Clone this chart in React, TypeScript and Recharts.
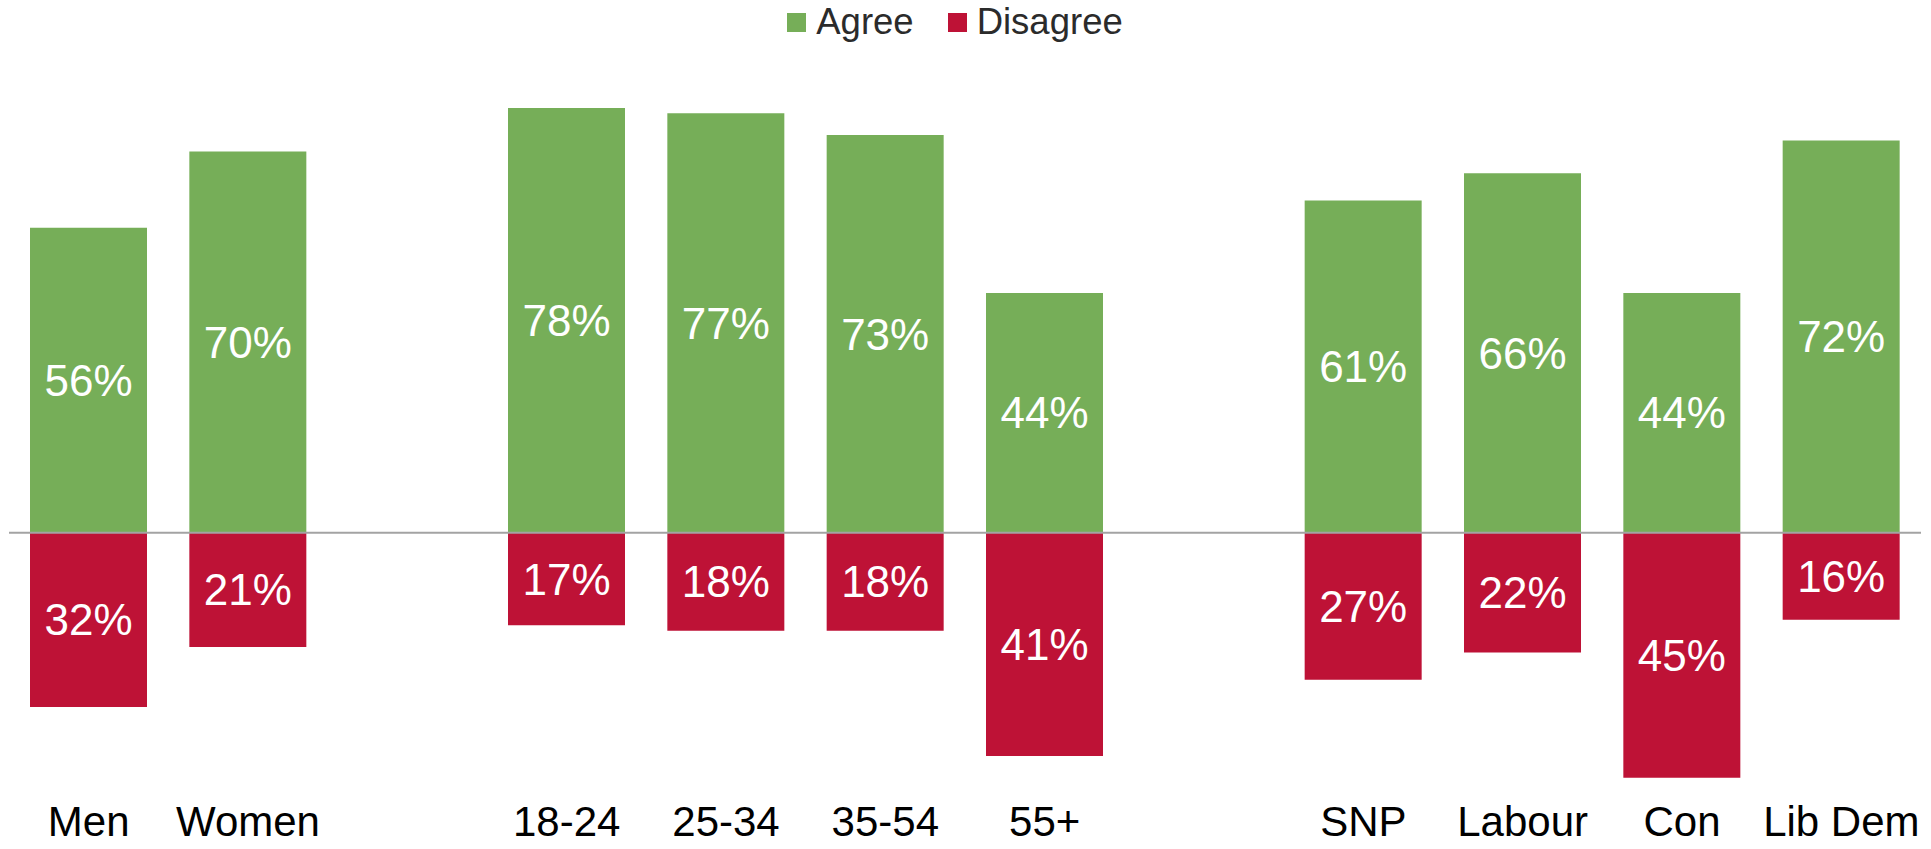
import { BarChart, Bar, XAxis, YAxis, Legend, ReferenceLine, LabelList } from 'recharts'

// Categories ('' = spacer between groups)
const categories = ['Men', 'Women', '', '18-24', '25-34', '35-54', '55+', '', 'SNP', 'Labour', 'Con', 'Lib Dem']
const agree = [56, 70, null, 78, 77, 73, 44, null, 61, 66, 44, 72]
const disagree = [32, 21, null, 17, 18, 18, 41, null, 27, 22, 45, 16]

const GREEN = '#76ae58'
const RED = '#be1236'
const FONT = '"Liberation Sans", Arial, sans-serif'

const data = categories.map((name, i) => ({
  name,
  agree: agree[i],
  disagree: disagree[i] == null ? null : -(disagree[i] as number),
}))

const fmt = (v: any) => (v == null || isNaN(v) ? '' : `${Math.abs(v)}%`)

function LegendContent() {
  const items = [
    { label: 'Agree', color: GREEN },
    { label: 'Disagree', color: RED },
  ]
  return (
    <div style={{ display: 'flex', justifyContent: 'center', paddingLeft: 14, height: 44, fontFamily: FONT }}>
      {items.map(it => (
        <div key={it.label} style={{ display: 'flex', alignItems: 'center', marginRight: 34, height: 44 }}>
          <span style={{ width: 19, height: 19, background: it.color, marginRight: 10, display: 'inline-block' }} />
          <span style={{ fontSize: 36.5, color: '#2b2b2b' }}>{it.label}</span>
        </div>
      ))}
    </div>
  )
}

export default function App() {
  return (
    <div style={{ position: 'absolute', left: 0, top: 0, width: 1931, height: 849, background: '#fff', fontFamily: FONT }}>
      <BarChart
        width={1931}
        height={849}
        data={data}
        stackOffset="sign"
        margin={{ top: 53, right: 10, left: 9, bottom: 0 }}
        barSize={117}
      >
        <XAxis
          dataKey="name"
          axisLine={false}
          tickLine={false}
          tickSize={0}
          tickMargin={1}
          height={44}
          interval={0}
          tick={{ fontSize: 42, fill: '#000', fontFamily: FONT }}
        />
        <YAxis hide domain={[-50, 80]} />
        <Legend verticalAlign="top" content={<LegendContent />} wrapperStyle={{ top: 0 }} />
        <Bar dataKey="agree" stackId="a" fill={GREEN} isAnimationActive={false}>
          <LabelList dataKey="agree" position="center" fill="#fff" fontSize={44} fontFamily={FONT} formatter={fmt} />
        </Bar>
        <Bar dataKey="disagree" stackId="a" fill={RED} isAnimationActive={false}>
          <LabelList dataKey="disagree" position="center" fill="#fff" fontSize={44} fontFamily={FONT} formatter={fmt} />
        </Bar>
        <ReferenceLine y={0} stroke="#a3a3a3" strokeWidth={2} />
      </BarChart>
    </div>
  )
}
